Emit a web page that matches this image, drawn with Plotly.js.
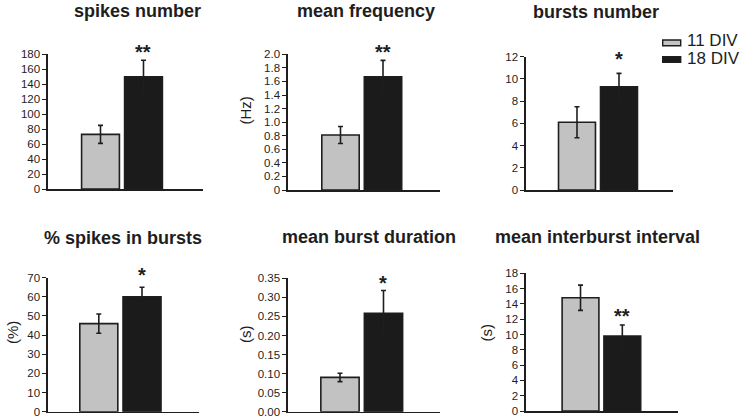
<!DOCTYPE html>
<html>
<head>
<meta charset="utf-8">
<script src="https://cdn.plot.ly/plotly-3.0.1.min.js"></script>
<style>
html,body{margin:0;padding:0;background:#fff;}
#chart{width:745px;height:420px;}
</style>
</head>
<body>
<div id="chart"></div>
<script>
// ---- data ----
var groups = ['11 DIV', '18 DIV'];
var panelTitles = ['spikes number', 'mean frequency', 'bursts number',
                   '% spikes in bursts', 'mean burst duration', 'mean interburst interval'];
var unitLabels = ['', '(Hz)', '', '(%)', '(s)', '(s)'];
var spikesNumber = [73, 150];
var spikesNumberErr = [12, 22];
var meanFrequency = [0.81, 1.67];
var meanFrequencyErr = [0.125, 0.24];
var burstsNumber = [6.1, 9.3];
var burstsNumberErr = [1.4, 1.2];
var pctSpikesInBursts = [46, 60];
var pctSpikesInBurstsErr = [5, 5];
var meanBurstDuration = [0.09, 0.258];
var meanBurstDurationErr = [0.011, 0.06];
var meanInterburstInterval = [14.8, 9.8];
var meanInterburstIntervalErr = [1.65, 1.45];
var significance = ['**', '**', '*', '*', '*', '**']; // on the 18 DIV bar
var ticks1 = [0, 20, 40, 60, 80, 100, 120, 140, 160, 180];
var ticks2 = [0, 0.2, 0.4, 0.6, 0.8, 1.0, 1.2, 1.4, 1.6, 1.8, 2.0];
var ticks2Text = ['0', '0.2', '0.4', '0.6', '0.8', '1.0', '1.2', '1.4', '1.6', '1.8', '2.0'];
var ticks3 = [0, 2, 4, 6, 8, 10, 12];
var ticks4 = [0, 10, 20, 30, 40, 50, 60, 70];
var ticks5 = [0, 0.05, 0.10, 0.15, 0.20, 0.25, 0.30, 0.35];
var ticks5Text = ['0.00', '0.05', '0.10', '0.15', '0.20', '0.25', '0.30', '0.35'];
var ticks6 = [0, 2, 4, 6, 8, 10, 12, 14, 16, 18];

var values = [spikesNumber, meanFrequency, burstsNumber, pctSpikesInBursts, meanBurstDuration, meanInterburstInterval];
var errors = [spikesNumberErr, meanFrequencyErr, burstsNumberErr, pctSpikesInBurstsErr, meanBurstDurationErr, meanInterburstIntervalErr];
var tickVals = [ticks1, ticks2, ticks3, ticks4, ticks5, ticks6];
var tickTexts = [ticks1.map(String), ticks2Text, ticks3.map(String), ticks4.map(String), ticks5Text, ticks6.map(String)];

// ---- layout (pixel geometry) ----
var W = 745, H = 420;
var FONT = '"Liberation Sans", Arial, Helvetica, sans-serif';
var grayFill = '#c2c2c2', blackFill = '#1b1b1b', ink = '#1e1e1e';
// plot boxes: [x0, x1, yBottom, yTop] in pixels
var boxes = [
  [48, 203, 189, 54.3],
  [288, 440, 190, 54.3],
  [526, 673, 190, 56.7],
  [48, 199, 411.7, 277.7],
  [288, 440, 411.7, 278.3],
  [526, 678, 411, 273.3]
];
var xRanges = [[-1.221, 2.384], [-1.235, 2.341], [-1.214, 2.286], [-1.176, 2.319], [-1.195, 2.299], [-1.304, 2.332]];
var yMax = [180, 2.0, 12, 70, 0.35, 18];
var titlePos = [[137, 11], [365.5, 11], [595.5, 12], [123.5, 238], [368.5, 237], [597, 237]];
var unitPos = [null, [245.5, 111], null, [12, 333], [245, 334], [485.5, 333]];
var starShift = [-5, -5, 1, -1, -5, -4];

var data = [];
var layout = {
  width: W, height: H,
  margin: {l: 0, r: 0, t: 0, b: 0},
  paper_bgcolor: '#fff', plot_bgcolor: 'rgba(0,0,0,0)',
  showlegend: false,
  font: {family: FONT, color: ink},
  annotations: [], shapes: []
};
function px(x) { return x / W; }
function py(y) { return 1 - y / H; }

for (var i = 0; i < 6; i++) {
  var n = i + 1;
  var xa = 'x' + (n === 1 ? '' : n), ya = 'y' + (n === 1 ? '' : n);
  var b = boxes[i];
  data.push({
    type: 'bar', x: groups, y: values[i], xaxis: xa, yaxis: ya,
    width: 0.88,
    marker: {color: [grayFill, blackFill], line: {color: ink, width: 1.6}},
    error_y: {type: 'data', array: errors[i], visible: true, color: ink, thickness: 1.6, width: 2.5},
    hoverinfo: 'none'
  });
  layout['xaxis' + (n === 1 ? '' : n)] = {
    domain: [px(b[0]), px(b[1])], anchor: ya, type: 'category',
    range: xRanges[i], showline: true, linecolor: ink, linewidth: 1.6,
    showticklabels: false, ticks: '', showgrid: false, zeroline: false, fixedrange: true
  };
  layout['yaxis' + (n === 1 ? '' : n)] = {
    domain: [py(b[2]), py(b[3])], anchor: xa,
    range: [0, yMax[i]], tickmode: 'array', tickvals: tickVals[i], ticktext: tickTexts[i],
    showline: true, linecolor: ink, linewidth: 1.6,
    ticks: 'outside', ticklen: 4, tickwidth: 1, tickcolor: ink,
    tickfont: {family: FONT, size: 11.5, color: ink},
    showgrid: false, zeroline: false, fixedrange: true
  };
  // panel title
  layout.annotations.push({
    xref: 'paper', yref: 'paper', x: px(titlePos[i][0]), y: py(titlePos[i][1]),
    xanchor: 'center', yanchor: 'middle', showarrow: false,
    text: '<b>' + panelTitles[i] + '</b>', font: {family: FONT, size: 18, color: ink}
  });
  // unit label
  if (unitLabels[i]) {
    layout.annotations.push({
      xref: 'paper', yref: 'paper', x: px(unitPos[i][0]), y: py(unitPos[i][1]),
      xanchor: 'center', yanchor: 'middle', showarrow: false, textangle: -90,
      text: unitLabels[i], font: {family: FONT, size: 15, color: ink}
    });
  }
  // significance stars above the 18 DIV bar
  layout.annotations.push({
    xref: xa, yref: ya, x: groups[1], y: values[i][1] + errors[i][1],
    xanchor: 'center', yanchor: 'bottom', yshift: starShift[i], showarrow: false,
    text: '<b>' + significance[i] + '</b>', font: {family: FONT, size: 20, color: ink}
  });
}

// legend (drawn as shapes + text)
var legendRows = [[40, 45.7, 41], [56.7, 62.3, 58.5]];
var legendFills = [grayFill, blackFill];
for (var k = 0; k < 2; k++) {
  layout.shapes.push({
    type: 'rect', xref: 'paper', yref: 'paper',
    x0: px(662.7), x1: px(680.7), y0: py(legendRows[k][1]), y1: py(legendRows[k][0]),
    fillcolor: legendFills[k], line: {color: ink, width: 1.4}
  });
  layout.annotations.push({
    xref: 'paper', yref: 'paper', x: px(685), y: py(legendRows[k][2]),
    xanchor: 'left', yanchor: 'middle', showarrow: false,
    text: groups[k], font: {family: FONT, size: 17, color: ink}
  });
}

Plotly.newPlot('chart', data, layout, {staticPlot: true, displayModeBar: false});
</script>
</body>
</html>
